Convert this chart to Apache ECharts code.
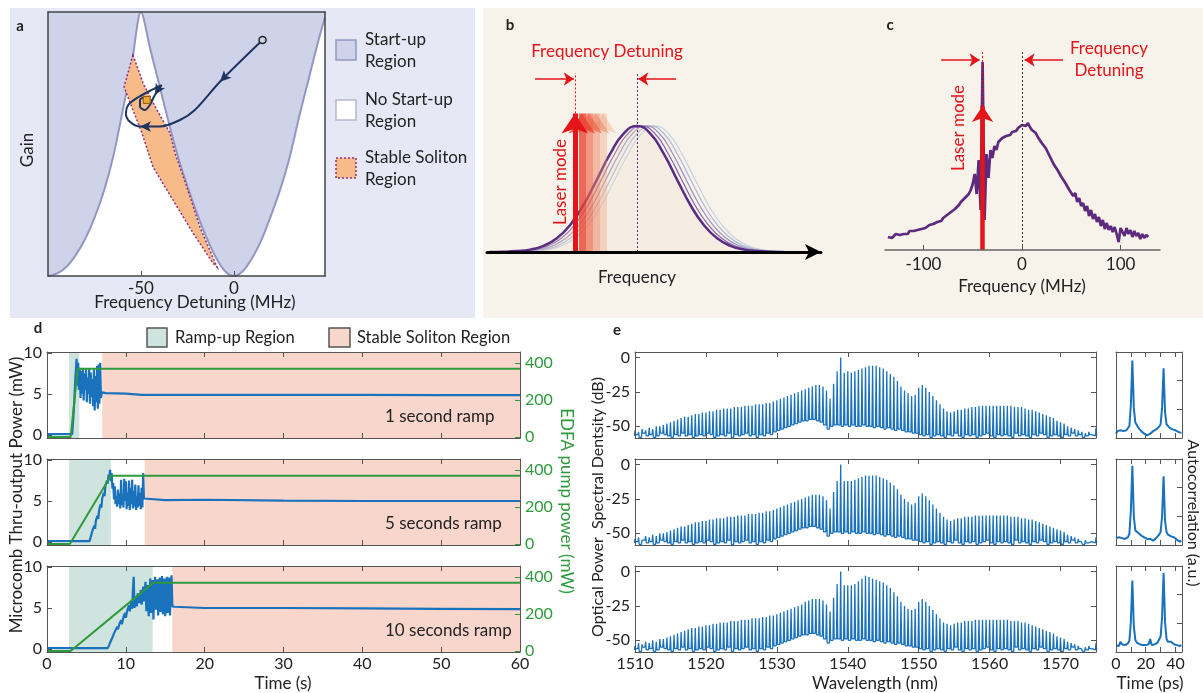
<!DOCTYPE html>
<html>
<head>
<meta charset="utf-8">
<script src="https://cdn.jsdelivr.net/npm/echarts@6/dist/echarts.min.js"></script>
<style>
html, body { margin: 0; padding: 0; background: #fff; }
#chart { width: 1203px; height: 693px; }
</style>
</head>
<body>
<div id="chart"></div>
<script>
// ---- panel a: start-up map ----
const edgeX = [-100, -95, -90, -85, -80, -75, -70, -65, -60, -55, -50, -45, -40, -35, -30, -25, -20, -15, -10, -5, 0, 5, 10, 15, 20, 25, 30, 35, 40, 45, 49]
const edgeGain = [0, 0.01, 0.035, 0.08, 0.14, 0.22, 0.32, 0.45, 0.62, 0.8, 1.0, 0.86, 0.72, 0.58, 0.45, 0.34, 0.24, 0.15, 0.075, 0.02, 0, 0.02, 0.07, 0.14, 0.23, 0.33, 0.45, 0.6, 0.74, 0.88, 0.98]
const solitonX = [-54.3, -59.1, -54.3, -49.5, -43.5, -32.8, -22.0, -11.3, -9.1, -18.3, -25.3, -31.7, -34.4, -41.4, -48.9]
const solitonY = [0.837, 0.716, 0.629, 0.542, 0.413, 0.288, 0.163, 0.049, 0.034, 0.186, 0.337, 0.466, 0.542, 0.629, 0.731]
const trajX = [15.4, -7.5, -21.0, -29.0, -39.8, -50.5, -55.9, -58.1, -56.8, -51.5, -44.2, -38.9, -42.5, -45.2, -47.8, -50.5, -50.5, -47.8, -46.9]
const trajY = [0.894, 0.736, 0.629, 0.591, 0.566, 0.566, 0.584, 0.616, 0.648, 0.677, 0.705, 0.723, 0.686, 0.648, 0.629, 0.641, 0.667, 0.677, 0.667]
const trajArrows = [[-7.5, 0.736, 135], [-50.5, 0.566, 90], [-42.5, 0.686, 150]]

// ---- panel b: schematic ----
const gaussOffset = [-44, -40, -36, -32, -28, -24, -20, -16, -12, -8, -4, 0, 4, 8, 12, 16, 20, 24, 28, 32, 36, 40, 44]
const gaussProfile = [0.0006, 0.002, 0.007, 0.019, 0.049, 0.109, 0.215, 0.373, 0.575, 0.78, 0.94, 1, 0.94, 0.78, 0.575, 0.373, 0.215, 0.109, 0.049, 0.019, 0.007, 0.002, 0.0006]
const bCenter = 44.9
const bShifts = [5.4, 4.05, 2.7, 1.35, 0]
const bColors = ['#c6d3e4', '#b2b8d4', '#9f94be', '#8a6ca8', '#5b2c83']
const laserB = [34.7, 32.6, 30.5, 28.4, 26.3]
const laserBColors = ['rgba(240,160,120,0.35)', 'rgba(238,130,95,0.5)', 'rgba(236,100,75,0.65)', 'rgba(232,70,50,0.8)', '#e3151b']

// ---- panel c: measured spectrum ----
const cStart = -136
const cStep = 2
const cSpec = [
  6.5, 7.5, 6, 7, 8, 7, 7.5, 8.5, 8, 9,
  8, 9.5, 9, 9.5, 10.5, 10, 11, 10.5, 11.5, 11,
  12, 12.5, 12, 13, 13.5, 14, 15, 14.5, 16, 16.5,
  17.5, 18, 19, 19.5, 20.5, 21, 22.5, 24, 24.5, 26,
  26.5, 28, 30, 33, 38, 28, 45, 20, 94, 15,
  48, 36, 50, 46, 52, 50, 54, 53, 56, 55,
  57, 58, 57.5, 59, 60, 59.5, 61, 62, 62.5, 63,
  62, 63.5, 61.5, 60, 59.5, 58.5, 56.5, 55, 53.5, 52.5,
  51, 49, 47, 46, 43, 43.5, 40, 39, 36.5, 37,
  33.5, 34, 30, 31, 27, 28.5, 24, 26, 22, 23.5,
  19.5, 22, 17, 20, 15.5, 18, 14, 16.5, 12, 15,
  10.5, 13.5, 10, 12, 9, 11.5, 8, 4, 11, 9,
  7, 11, 8, 10, 6.5, 9.5, 7, 8.5, 5.5, 8,
  6, 7.5, 6.5
]
const laserC = -40

// ---- panel d: ramps ----
const rampStart = [2.8, 2.8, 2.8]
const rampEnd = [4.1, 8.1, 13.4]
const stableStart = [7.0, 12.4, 15.9]
const rampLabels = ['1 second ramp', '5 seconds ramp', '10 seconds ramp']
const dBlue1 = [[0, 0.1], [3.2, 0.1], [3.4, 3], [3.6, 7], [3.75, 9.3], [3.85, 6], [3.95, 8.8], [4.05, 5.5], [4.15, 8.2], [4.25, 4.5], [4.35, 7.8], [4.45, 5], [4.55, 8.1], [4.65, 4.2], [4.75, 7.5], [4.85, 5.5], [4.95, 8], [5.05, 4], [5.15, 7], [5.25, 5], [5.35, 8.1], [5.45, 3.8], [5.55, 7.6], [5.65, 4.6], [5.75, 6.8], [5.85, 3.5], [5.95, 8], [6.05, 3], [6.15, 7.2], [6.25, 4], [6.35, 8.4], [6.45, 3.2], [6.55, 8.6], [6.65, 3.8], [6.75, 8.8], [6.85, 4.5], [6.95, 5.2], [7.5, 5.1], [10, 5.05], [12, 4.9], [20, 4.9], [30, 4.9], [40, 4.88], [50, 4.85], [60, 4.85]]
const dBlue2 = [[0, 0.1], [5.4, 0.1], [5.6, 0.8], [5.8, 1.5], [6.0, 2.0], [6.1, 1.6], [6.2, 2.6], [6.4, 3.2], [6.5, 2.8], [6.6, 3.8], [6.8, 4.6], [6.9, 4.2], [7.0, 5.3], [7.2, 6.0], [7.3, 5.6], [7.4, 6.8], [7.6, 7.5], [7.7, 7.1], [7.8, 8.2], [7.9, 7.8], [8.0, 8.8], [8.1, 7.4], [8.2, 8.4], [8.3, 6.5], [8.4, 7.2], [8.5, 5.2], [8.6, 6.8], [8.7, 4.6], [8.8, 5.6], [8.9, 4.3], [9.0, 6.4], [9.1, 4.6], [9.2, 5.9], [9.3, 4.1], [9.4, 7.6], [9.5, 4.5], [9.6, 5.8], [9.7, 4.2], [9.8, 7.7], [9.9, 5.0], [10.0, 7.4], [10.1, 4.0], [10.2, 6.0], [10.3, 4.4], [10.4, 7.5], [10.5, 3.9], [10.6, 6.6], [10.7, 4.6], [10.8, 7.6], [10.9, 4.1], [11.0, 6.2], [11.1, 4.3], [11.2, 7.0], [11.3, 3.9], [11.4, 5.6], [11.5, 4.2], [11.6, 6.9], [11.7, 4.4], [11.8, 6.0], [11.9, 4.0], [12.0, 6.6], [12.1, 4.2], [12.2, 8.4], [12.3, 5.3], [12.5, 5.1], [15, 5.1], [20, 5.15], [30, 5.05], [40, 5.0], [50, 5.0], [60, 5.0]]
const dBlue3 = [[0, 0.1], [7.7, 0.1], [7.9, 0.5], [8.1, 1.0], [8.3, 1.4], [8.5, 1.9], [8.7, 2.3], [8.9, 2.7], [9.0, 2.4], [9.2, 3.1], [9.4, 3.5], [9.5, 3.0], [9.7, 3.9], [9.9, 4.4], [10.0, 3.8], [10.2, 4.8], [10.4, 5.3], [10.5, 4.6], [10.7, 5.8], [10.8, 4.9], [10.9, 7.2], [11.0, 8.8], [11.1, 5.0], [11.2, 6.4], [11.4, 5.2], [11.5, 6.8], [11.7, 5.6], [11.9, 7.2], [12.0, 5.4], [12.2, 7.6], [12.3, 5.8], [12.5, 8.2], [12.6, 4.6], [12.8, 7.8], [12.9, 4.0], [13.1, 8.6], [13.2, 4.4], [13.4, 8.4], [13.5, 3.6], [13.7, 8.8], [13.8, 4.8], [14.0, 8.5], [14.1, 4.1], [14.3, 8.7], [14.4, 4.5], [14.6, 8.9], [14.7, 4.2], [14.9, 8.6], [15.0, 4.0], [15.2, 8.8], [15.3, 4.4], [15.5, 8.7], [15.6, 4.1], [15.8, 9.0], [15.9, 5.2], [16.2, 5.15], [20, 5.0], [30, 5.0], [40, 4.95], [50, 4.9], [60, 4.85]]
const dGreen1 = [[0, 0], [3.0, 0], [3.9, 370], [60, 370]]
const dGreen2 = [[0, 0], [2.9, 0], [8.1, 370], [60, 370]]
const dGreen3 = [[0, 0], [3.0, 0], [13.5, 370], [60, 370]]

// ---- panel e: comb spectra (peak per comb line, 0.5 nm apart) ----
const combStart = 1510
const combStep = 0.5
const combPeaks1 = [
  -53, -54, -52, -53, -51, -52, -50, -50, -49, -48,
  -47, -46, -45, -44, -43, -43, -42, -41, -41, -40,
  -40, -39, -39, -38, -38, -37, -37, -37, -36, -36,
  -36, -35, -35, -35, -34, -34, -34, -33, -33, -32,
  -31, -30, -29, -28, -27, -26, -25, -24, -23, -22,
  -21, -20, -20, -21, -24, -30, -19, -10, 0, -11,
  -10, -11, -10, -9, -8, -7, -6, -6, -6, -7,
  -8, -10, -12, -14, -17, -21, -24, -26, -28, -27,
  -22, -20, -22, -25, -28, -31, -34, -37, -39, -40,
  -39, -38, -38, -37, -37, -36, -36, -35, -35, -35,
  -35, -35, -35, -35, -35, -35, -35, -36, -36, -36,
  -37, -38, -38, -39, -40, -41, -42, -43, -44, -46,
  -47, -48, -50, -51, -52, -53, -54, -55, -54, -55,
  -51
]
const combPeaks2 = [
  -54, -53, -55, -52, -53, -51, -52, -50, -50, -49,
  -48, -47, -46, -45, -45, -44, -43, -42, -42, -41,
  -41, -40, -40, -39, -39, -39, -38, -38, -38, -37,
  -37, -37, -36, -36, -36, -35, -35, -34, -34, -33,
  -32, -31, -30, -29, -28, -27, -26, -25, -24, -23,
  -22, -22, -22, -23, -26, -32, -20, -12, 0, -12,
  -12, -12, -11, -10, -9, -8, -8, -8, -8, -9,
  -10, -11, -13, -15, -18, -22, -25, -27, -29, -28,
  -23, -21, -23, -26, -29, -32, -35, -38, -40, -41,
  -40, -39, -39, -38, -38, -38, -37, -37, -37, -37,
  -37, -37, -37, -37, -37, -37, -38, -38, -38, -39,
  -39, -40, -40, -41, -42, -43, -44, -45, -46, -47,
  -48, -49, -51, -52, -53, -54, -55, -55, -56, -55,
  -53
]
const combPeaks3 = [
  -54, -52, -53, -51, -52, -50, -51, -49, -49, -48,
  -47, -46, -45, -44, -43, -42, -41, -41, -40, -40,
  -39, -39, -38, -38, -37, -37, -37, -36, -36, -36,
  -35, -35, -35, -34, -34, -34, -33, -33, -32, -32,
  -31, -30, -29, -28, -27, -26, -25, -24, -22, -21,
  -20, -20, -20, -21, -24, -29, -19, -9, 0, -10,
  -10, -10, -9, -7, -5, -3, -4, -5, -6, -7,
  -8, -10, -12, -15, -18, -22, -25, -27, -28, -27,
  -22, -20, -22, -25, -28, -31, -34, -37, -38, -39,
  -38, -37, -37, -36, -36, -36, -35, -35, -35, -35,
  -35, -35, -35, -35, -35, -35, -36, -36, -36, -37,
  -37, -38, -39, -40, -41, -42, -43, -44, -45, -47,
  -48, -49, -51, -52, -53, -54, -55, -55, -54, -55,
  -52
]
const combTroughs = [
  -57, -56, -58, -55, -57, -56, -58, -57, -55, -56,
  -57, -58, -56, -57, -55, -57, -56, -58, -57, -56,
  -57, -55, -56, -58, -57, -56, -57, -55, -58, -56,
  -57, -56, -55, -57, -56, -58, -56, -57, -55, -56,
  -54, -53, -52, -51, -50, -49, -48, -47, -46, -46,
  -45, -45, -46, -47, -49, -52, -50, -49, -49, -50,
  -49, -50, -49, -50, -50, -49, -50, -50, -51, -50,
  -51, -52, -51, -52, -53, -52, -53, -54, -54, -55,
  -55, -56, -57, -56, -58, -57, -56, -57, -58, -56,
  -57, -55, -57, -58, -56, -57, -56, -58, -57, -56,
  -55, -57, -58, -56, -57, -56, -57, -58, -55, -57,
  -56, -57, -58, -56, -57, -55, -56, -58, -57, -56,
  -57, -58, -56, -57, -55, -57, -56, -58, -57, -56,
  -57
]

// ---- panel e: autocorrelation, 1 ps steps ----
const acStep = 1
const ac1 = [0.05, 0.08, 0.06, 0.09, 0.07, 0.08, 0.10, 0.09, 0.10, 0.14, 0.38, 0.90, 0.35, 0.18, 0.15, 0.12, 0.10, 0.08, 0.06, 0.05, 0.04, 0.03, 0.04, 0.05, 0.07, 0.08, 0.09, 0.10, 0.12, 0.13, 0.16, 0.35, 0.81, 0.30, 0.16, 0.14, 0.12, 0.13, 0.10, 0.11, 0.09, 0.10, 0.07, 0.08, 0.06]
const ac2 = [0.08, 0.06, 0.09, 0.07, 0.08, 0.06, 0.07, 0.08, 0.09, 0.13, 0.40, 0.92, 0.33, 0.17, 0.15, 0.14, 0.12, 0.11, 0.10, 0.09, 0.08, 0.07, 0.06, 0.07, 0.06, 0.05, 0.07, 0.08, 0.10, 0.12, 0.15, 0.33, 0.80, 0.28, 0.15, 0.12, 0.13, 0.10, 0.08, 0.09, 0.07, 0.06, 0.05, 0.04, 0.05]
const ac3 = [0.08, 0.10, 0.07, 0.12, 0.09, 0.10, 0.08, 0.09, 0.10, 0.13, 0.35, 0.83, 0.30, 0.14, 0.11, 0.10, 0.09, 0.10, 0.08, 0.09, 0.08, 0.10, 0.09, 0.15, 0.08, 0.10, 0.09, 0.10, 0.11, 0.13, 0.18, 0.40, 0.92, 0.35, 0.15, 0.12, 0.11, 0.12, 0.10, 0.09, 0.10, 0.08, 0.09, 0.07, 0.08]

// ---- styles ----
const FONT = 'Lato, "Open Sans", sans-serif'
const INK = '#222'
const FRAME = '#555'
const BLUE = '#1b72bc'
const GREEN = '#2f9a3c'
const RED = '#e3151b'
const TEAL = '#cfe4df'
const SALMON = '#f9d6cc'
const ROW_TOPS = [352, 459, 566]
const ROW_H = 86

const grids = []
const xAxes = []
const yAxes = []
const series = []
const graphics = []

const addGrid = g => { grids.push(Object.assign({ containLabel: false, outerBoundsMode: 'none' }, g)); return grids.length - 1 }
const addX = o => { xAxes.push(o); return xAxes.length - 1 }
const addY = o => { yAxes.push(o); return yAxes.length - 1 }

// generic framed axis (box on, ticks inside like the source plots)
function frameAxis(gi, opts) {
    const o = {
        gridIndex: gi, type: 'value', z: 10,
        min: opts.min, max: opts.max,
        position: opts.position,
        axisLine: { show: true, onZero: false, lineStyle: { color: opts.lineColor || FRAME, width: opts.lineWidth || 1 } },
        axisTick: { show: !!opts.ticks, inside: true, length: 5, lineStyle: { color: opts.tickColor || FRAME } },
        axisLabel: {
            show: !!opts.labels, fontSize: opts.fontSize || 16, color: opts.labelColor || INK,
            fontFamily: FONT, margin: opts.margin || 5, formatter: v => String(v)
        },
        splitLine: { show: false }
    }
    if (opts.interval) { o.interval = opts.interval }
    if (opts.ticks && opts.ticks !== true) o.axisTick.customValues = opts.ticks
    if (opts.labels && opts.labels !== true) o.axisLabel.customValues = opts.labels
    return o
}

function txt(x, y, s, o = {}) {
    return {
        type: 'text', x, y, rotation: o.rot || 0, z: 100,
        style: {
            text: s, fill: o.color || INK, fontSize: o.size || 16, fontFamily: FONT,
            fontWeight: o.bold ? 'bold' : 'normal',
            align: o.align || 'center', textAlign: o.align || 'center',
            verticalAlign: 'middle', textVerticalAlign: 'middle'
        }
    }
}

function box(x, y, w, h, fill, stroke, dash) {
    return { type: 'rect', z: 100, shape: { x, y, width: w, height: h }, style: { fill, stroke, lineWidth: 1.5, lineDash: dash || null } }
}

// backgrounds
graphics.push({ type: 'rect', z: -10, shape: { x: 10, y: 8, width: 465, height: 310 }, style: { fill: '#e6e8f5' } })
graphics.push({ type: 'rect', z: -10, shape: { x: 483, y: 8, width: 720, height: 310 }, style: { fill: '#f7f2ea' } })

// ================= panel a =================
const gA = addGrid({ left: 48, top: 12, width: 277, height: 264, show: true, backgroundColor: '#cfd3ea', borderWidth: 0 })
const xA = addX(frameAxis(gA, { min: -100, max: 49, ticks: [-50, 0], labels: [-50, 0], fontSize: 17, lineColor: '#444', lineWidth: 1.5, margin: 4 }))
addX(frameAxis(gA, { min: -100, max: 49, position: 'top', lineColor: '#444', lineWidth: 1.5 }))
const yA = addY(frameAxis(gA, { min: 0, max: 1, lineColor: '#444', lineWidth: 1.5 }))
addY(frameAxis(gA, { min: 0, max: 1, position: 'right', lineColor: '#444', lineWidth: 1.5 }))

series.push({
    type: 'line', xAxisIndex: xA, yAxisIndex: yA, symbol: 'none', smooth: 0.3, z: 2,
    data: edgeX.map((x, i) => [x, edgeGain[i]]),
    lineStyle: { color: '#9397c0', width: 2 },
    areaStyle: { color: '#ffffff', opacity: 1, origin: 'start' }
})
series.push({
    type: 'custom', xAxisIndex: xA, yAxisIndex: yA, data: [[-40, 0.4]], clip: false, z: 4,
    renderItem: (params, api) => ({
        type: 'polygon',
        shape: { points: solitonX.map((x, i) => api.coord([x, solitonY[i]])) },
        style: { fill: '#f6bb89', stroke: '#8e2f7d', lineWidth: 1.5, lineDash: [2, 2] }
    })
})
series.push({
    type: 'line', xAxisIndex: xA, yAxisIndex: yA, symbol: 'none', smooth: 0.3, z: 5,
    data: trajX.map((x, i) => [x, trajY[i]]),
    lineStyle: { color: '#1d3461', width: 2 }
})
series.push({
    type: 'scatter', xAxisIndex: xA, yAxisIndex: yA, symbol: 'arrow', symbolSize: [8, 11], z: 6,
    itemStyle: { color: '#1d3461', opacity: 1 },
    data: trajArrows.map(a => ({ value: [a[0], a[1]], symbolRotate: a[2] }))
})
series.push({
    type: 'scatter', xAxisIndex: xA, yAxisIndex: yA, symbol: 'circle', symbolSize: 7, z: 6,
    itemStyle: { color: '#cfd3ea', borderColor: '#222', borderWidth: 1.5, opacity: 1 },
    data: [[trajX[0], trajY[0]]]
})
series.push({
    type: 'scatter', xAxisIndex: xA, yAxisIndex: yA, symbol: 'rect', symbolSize: 7, z: 6,
    itemStyle: { color: '#f2a531', borderColor: '#8a5a10', borderWidth: 1, opacity: 1 },
    data: [[trajX[trajX.length - 1], trajY[trajY.length - 1]]]
})

graphics.push(txt(20, 26, 'a', { bold: true, size: 15 }))
graphics.push(txt(28, 150, 'Gain', { rot: Math.PI / 2, size: 17 }))
graphics.push(txt(195, 303, 'Frequency Detuning (MHz)', { size: 17 }))
graphics.push(box(336, 40, 20, 20, '#cfd3ea', '#9397c0'))
graphics.push(txt(365, 40, 'Start-up', { align: 'left', size: 17 }))
graphics.push(txt(365, 62, 'Region', { align: 'left', size: 17 }))
graphics.push(box(336, 100, 20, 20, '#ffffff', '#b5b7cc'))
graphics.push(txt(365, 100, 'No Start-up', { align: 'left', size: 17 }))
graphics.push(txt(365, 122, 'Region', { align: 'left', size: 17 }))
graphics.push(box(336, 158, 20, 20, '#f6bb89', '#8e2f7d', [2, 2]))
graphics.push(txt(365, 158, 'Stable Soliton', { align: 'left', size: 17 }))
graphics.push(txt(365, 180, 'Region', { align: 'left', size: 17 }))

// ================= panel b =================
const gB = addGrid({ left: 487, top: 63, width: 334, height: 189 })
const xB = addX({
    gridIndex: gB, type: 'value', min: 0, max: 100, z: 10,
    axisLine: { show: true, onZero: false, lineStyle: { color: '#000', width: 3 }, symbol: ['none', 'arrow'], symbolSize: [12, 16] },
    axisTick: { show: false }, axisLabel: { show: false }, splitLine: { show: false }
})
const yB = addY({ gridIndex: gB, type: 'value', min: 0, max: 1.5, show: false })

bShifts.forEach((s, k) => {
    const main = k === bShifts.length - 1
    series.push({
        type: 'line', xAxisIndex: xB, yAxisIndex: yB, symbol: 'none', smooth: true, z: main ? 4 : 3,
        data: gaussOffset.map((d, i) => [bCenter + s + d, gaussProfile[i]]),
        lineStyle: { color: bColors[k], width: main ? 2.5 : 1.3 },
        areaStyle: main ? { color: 'rgba(238,222,200,0.35)' } : null
    })
})
series.push({
    type: 'lines', coordinateSystem: 'cartesian2d', xAxisIndex: xB, yAxisIndex: yB, z: 5,
    symbol: ['none', 'arrow'], symbolSize: [15, 20],
    data: laserB.map((x, i) => ({
        coords: [[x, 0], [x, 1.1]],
        lineStyle: { color: laserBColors[i], width: i === laserB.length - 1 ? 5 : 7, opacity: 1 }
    }))
})
series.push({
    type: 'lines', coordinateSystem: 'cartesian2d', xAxisIndex: xB, yAxisIndex: yB, z: 6,
    symbol: 'none',
    data: [
        { coords: [[laserB[laserB.length - 1], 1.1], [laserB[laserB.length - 1], 1.42]], lineStyle: { color: RED } },
        { coords: [[bCenter, 0], [bCenter, 1.42]], lineStyle: { color: '#5b2c83' } }
    ],
    lineStyle: { width: 1, type: [2, 2], opacity: 1 }
})
series.push({
    type: 'lines', coordinateSystem: 'cartesian2d', xAxisIndex: xB, yAxisIndex: yB, z: 6,
    symbol: ['none', 'arrow'], symbolSize: 10,
    lineStyle: { color: RED, width: 1.6, opacity: 1 },
    data: [
        { coords: [[14.4, 1.373], [26.0, 1.373]] },
        { coords: [[56.6, 1.373], [45.3, 1.373]] }
    ]
})
graphics.push(txt(510, 25, 'b', { bold: true, size: 15 }))
graphics.push(txt(607, 52, 'Frequency Detuning', { color: RED, size: 17 }))
graphics.push(txt(561, 182, 'Laser mode', { color: RED, size: 17, rot: Math.PI / 2 }))
graphics.push(txt(637, 278, 'Frequency', { size: 17 }))

// ================= panel c =================
const gC = addGrid({ left: 885, top: 30, width: 275, height: 220 })
const xC = addX(frameAxis(gC, { min: -139, max: 140, ticks: [-100, 0, 100], labels: [-100, 0, 100], fontSize: 17, lineColor: '#666', lineWidth: 1.5, margin: 6 }))
const yC = addY({ gridIndex: gC, type: 'value', min: 0, max: 110, show: false })
series.push({
    type: 'line', xAxisIndex: xC, yAxisIndex: yC, symbol: 'none', z: 3,
    data: cSpec.map((v, i) => [cStart + i * cStep, v]),
    lineStyle: { color: '#5e2a7e', width: 2.7 }
})
series.push({
    type: 'lines', coordinateSystem: 'cartesian2d', xAxisIndex: xC, yAxisIndex: yC, z: 5,
    symbol: ['none', 'arrow'], symbolSize: [12, 16],
    lineStyle: { color: RED, width: 4.5, opacity: 1 },
    data: [{ coords: [[laserC, 0], [laserC, 72]] }]
})
series.push({
    type: 'lines', coordinateSystem: 'cartesian2d', xAxisIndex: xC, yAxisIndex: yC, z: 6,
    symbol: 'none', lineStyle: { width: 1, type: [2, 2], opacity: 1 },
    data: [
        { coords: [[laserC, 72], [laserC, 100]], lineStyle: { color: RED } },
        { coords: [[0, 0], [0, 100]], lineStyle: { color: '#333' } }
    ]
})
series.push({
    type: 'lines', coordinateSystem: 'cartesian2d', xAxisIndex: xC, yAxisIndex: yC, z: 6,
    symbol: ['none', 'arrow'], symbolSize: 10,
    lineStyle: { color: RED, width: 1.6, opacity: 1 },
    data: [
        { coords: [[-82, 95], [-43, 95]] },
        { coords: [[41.6, 95], [2.6, 95]] }
    ]
})
graphics.push(txt(890, 25, 'c', { bold: true, size: 15 }))
graphics.push(txt(1109, 49, 'Frequency', { color: RED, size: 17 }))
graphics.push(txt(1109, 71, 'Detuning', { color: RED, size: 17 }))
graphics.push(txt(959, 128, 'Laser mode', { color: RED, size: 17, rot: Math.PI / 2 }))
graphics.push(txt(1022, 287, 'Frequency (MHz)', { size: 17 }))

// ================= panel d =================
const dBlue = [dBlue1, dBlue2, dBlue3]
const dGreen = [dGreen1, dGreen2, dGreen3]
ROW_TOPS.forEach((top, k) => {
    const g = addGrid({ left: 47, top, width: 473, height: ROW_H })
    const last = k === ROW_TOPS.length - 1
    const xi = addX(frameAxis(g, { min: 0, max: 60, interval: 10, ticks: true, labels: last, margin: 4 }))
    addX(frameAxis(g, { min: 0, max: 60, interval: 10, ticks: true, position: 'top' }))
    const yl = addY(frameAxis(g, { min: -0.37, max: 10.12, ticks: [0, 5, 10], labels: [0, 5, 10] }))
    const yr = addY(frameAxis(g, { min: -5, max: 460, position: 'right', ticks: [0, 200, 400], labels: [0, 200, 400], labelColor: GREEN, tickColor: GREEN, margin: 5 }))
    series.push({
        type: 'line', xAxisIndex: xi, yAxisIndex: yl, symbol: 'none', z: 3,
        data: dBlue[k], lineStyle: { color: BLUE, width: 2.2 },
        markArea: {
            silent: true,
            data: [
                [{ xAxis: rampStart[k], itemStyle: { color: TEAL } }, { xAxis: rampEnd[k] }],
                [{ xAxis: stableStart[k], itemStyle: { color: SALMON } }, { xAxis: 60 }]
            ]
        }
    })
    series.push({
        type: 'line', xAxisIndex: xi, yAxisIndex: yr, symbol: 'none', z: 4,
        data: dGreen[k], lineStyle: { color: GREEN, width: 2 }
    })
    graphics.push(txt(385, top + 65, rampLabels[k], { align: 'left', size: 17 }))
})
graphics.push(txt(38, 328, 'd', { bold: true, size: 15 }))
graphics.push(box(147, 328, 20, 19, TEAL, '#555'))
graphics.push(txt(175, 338, 'Ramp-up Region', { align: 'left', size: 16.5 }))
graphics.push(box(329, 328, 21, 19, SALMON, '#555'))
graphics.push(txt(357, 338, 'Stable Soliton Region', { align: 'left', size: 16.5 }))
graphics.push(txt(17, 495, 'Microcomb Thru-output Power (mW)', { rot: Math.PI / 2, size: 17 }))
graphics.push(txt(566, 501, 'EDFA pump power (mW)', { rot: -Math.PI / 2, size: 17, color: GREEN }))
graphics.push(txt(283, 684, 'Time (s)', { size: 17 }))

// ================= panel e =================
const combPeaks = [combPeaks1, combPeaks2, combPeaks3]
const acData = [ac1, ac2, ac3]
const lineHalfWidth = 0.09
ROW_TOPS.forEach((top, k) => {
    const last = k === ROW_TOPS.length - 1
    const g = addGrid({ left: 635, top, width: 461, height: ROW_H })
    const xi = addX(frameAxis(g, { min: 1510, max: 1575, interval: 10, ticks: true, labels: last, margin: 4 }))
    addX(frameAxis(g, { min: 1510, max: 1575, interval: 10, ticks: true, position: 'top' }))
    const yi = addY(frameAxis(g, { min: -58.5, max: 4, ticks: [-50, -25, 0], labels: [-50, -25, 0] }))
    addY(frameAxis(g, { min: -58.5, max: 4, position: 'right', ticks: [-50, -25, 0] }))
    // each comb line: floor -> peak -> floor
    const pts = []
    combPeaks[k].forEach((p, i) => {
        const lam = combStart + i * combStep
        pts.push([lam - lineHalfWidth, combTroughs[i]], [lam, p], [lam + lineHalfWidth, combTroughs[(i + 1) % combTroughs.length]])
    })
    series.push({
        type: 'line', xAxisIndex: xi, yAxisIndex: yi, symbol: 'none', z: 3,
        data: pts, lineStyle: { color: BLUE, width: 1.3 }
    })

    const ga = addGrid({ left: 1116, top, width: 66, height: ROW_H })
    const xa = addX(frameAxis(ga, { min: 0, max: 44.4, ticks: [0, 10, 20, 30, 40], labels: last ? [0, 20, 40] : false, margin: 4 }))
    addX(frameAxis(ga, { min: 0, max: 44.4, ticks: [10, 20, 30, 40], position: 'top' }))
    const ya = addY(frameAxis(ga, { min: 0, max: 1 }))
    addY(frameAxis(ga, { min: 0, max: 1, position: 'right', ticks: [0.33, 0.67] }))
    series.push({
        type: 'line', xAxisIndex: xa, yAxisIndex: ya, symbol: 'none', z: 3,
        data: acData[k].map((v, i) => [i * acStep, v]),
        lineStyle: { color: BLUE, width: 2 }
    })
})
graphics.push(txt(617, 330, 'e', { bold: true, size: 15 }))
graphics.push(txt(598, 507, 'Optical Power  Spectral Dentsity (dB)', { rot: Math.PI / 2, size: 16 }))
graphics.push(txt(875, 684, 'Wavelength (nm)', { size: 17 }))
graphics.push(txt(1150, 684, 'Time (ps)', { size: 17 }))
graphics.push(txt(1193, 513, 'Autocorrelation (a.u.)', { rot: -Math.PI / 2, size: 16 }))

const chart = echarts.init(document.getElementById('chart'))
chart.setOption({
    animation: false,
    backgroundColor: '#ffffff',
    textStyle: { fontFamily: FONT },
    grid: grids,
    xAxis: xAxes,
    yAxis: yAxes,
    series,
    graphic: { elements: graphics }
})
</script>
</body>
</html>
